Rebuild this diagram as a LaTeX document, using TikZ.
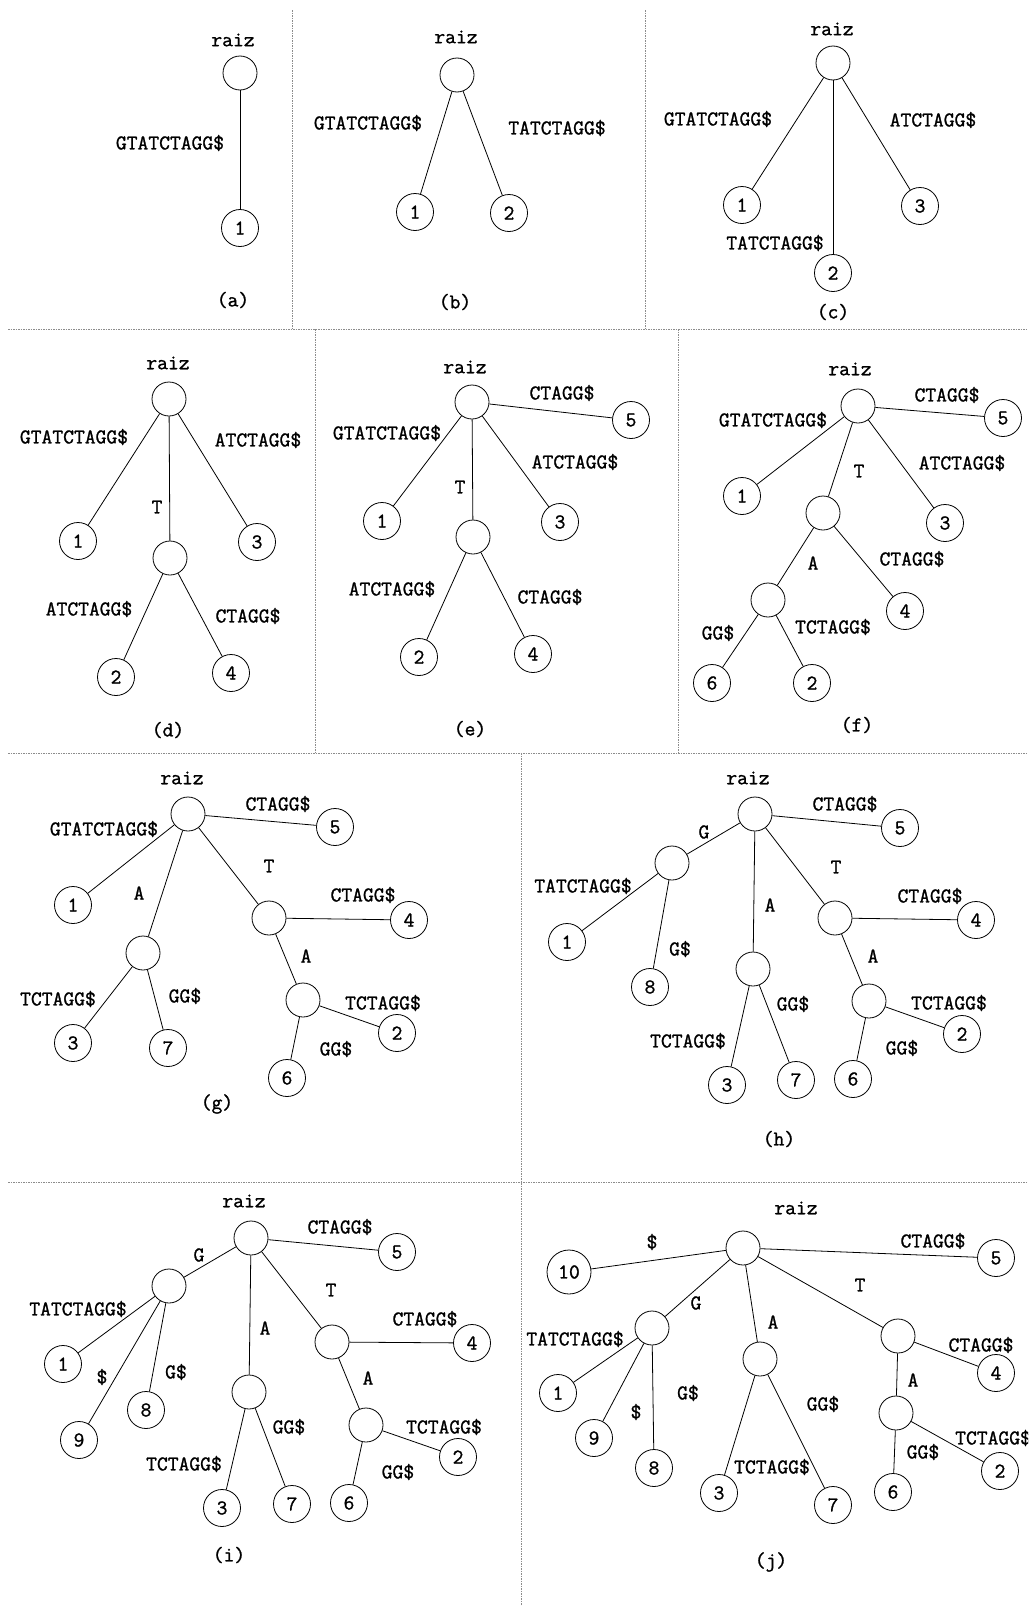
\documentclass[tikz,border=0pt]{standalone}
\usepackage{fontspec}
\newfontfamily\lbfam{Latin Modern Mono}[FakeBold=1.2]
\newcommand\lbf{\lbfam\fontsize{21}{23}\selectfont}
\begin{document}
\begin{tikzpicture}[x=1pt,y=-1pt,
  inn/.style={circle,draw,line width=0.8pt,minimum size=34pt,inner sep=0pt},
  lf/.style={circle,draw,line width=0.8pt,minimum size=37pt,inner sep=0pt,font=\lbf},
  lbl/.style={font=\lbf,inner sep=0pt},
  conn/.style={line width=0.8pt},
  sepline/.style={black!45,line width=0.8pt,dash pattern=on 1.5pt off 1pt}]
\clip (0,0) rectangle (1028,1606);
\fill[white] (0,0) rectangle (1028,1606);

% panel separators
\coordinate (s1a) at (292,10);   \coordinate (s1b) at (292,329);
\coordinate (s2a) at (645,10);   \coordinate (s2b) at (645,329);
\coordinate (h1a) at (8,329);    \coordinate (h1b) at (1028,329);
\coordinate (s3a) at (315,329);  \coordinate (s3b) at (315,753);
\coordinate (s4a) at (678,329);  \coordinate (s4b) at (678,753);
\coordinate (h2a) at (8,753);    \coordinate (h2b) at (1028,753);
\coordinate (s5a) at (521,753);  \coordinate (s5b) at (521,1606);
\coordinate (h3a) at (8,1182);   \coordinate (h3b) at (1028,1182);
\draw[sepline] (s1a) -- (s1b);
\draw[sepline] (s2a) -- (s2b);
\draw[sepline] (h1a) -- (h1b);
\draw[sepline] (s3a) -- (s3b);
\draw[sepline] (s4a) -- (s4b);
\draw[sepline] (h2a) -- (h2b);
\draw[sepline] (s5a) -- (s5b);
\draw[sepline] (h3a) -- (h3b);

% (a)
\node[lbl] (aRl) at (233,40) {raiz};
\node[inn] (aR) at (240,73) {};
\node[lf] (a1) at (240,228) {1};
\node[lbl] (aL1) at (170,143) {GTATCTAGG\$};
\node[lbl] (aCap) at (233,300) {(a)};
\draw[conn] (aR) -- (a1);

% (b)
\node[lbl] (bRl) at (456,37) {raiz};
\node[inn] (bR) at (457,75) {};
\node[lf] (b1) at (415,212) {1};
\node[lf] (b2) at (509,213) {2};
\node[lbl] (bL1) at (368,123) {GTATCTAGG\$};
\node[lbl] (bL2) at (557,128) {TATCTAGG\$};
\node[lbl] (bCap) at (455,302) {(b)};
\draw[conn] (bR) -- (b1);
\draw[conn] (bR) -- (b2);

% (c)
\node[lbl] (cRl) at (832,29) {raiz};
\node[inn] (cR) at (833,63) {};
\node[lf] (c1) at (742,205) {1};
\node[lf] (c3) at (920,206) {3};
\node[lf] (c2) at (833,273) {2};
\node[lbl] (cL1) at (718,119) {GTATCTAGG\$};
\node[lbl] (cL3) at (933,120) {ATCTAGG\$};
\node[lbl] (cL2) at (775,243) {TATCTAGG\$};
\node[lbl] (cCap) at (833,312) {(c)};
\draw[conn] (cR) -- (c1);
\draw[conn] (cR) -- (c2);
\draw[conn] (cR) -- (c3);

% (d)
\node[lbl] (dRl) at (168,363) {raiz};
\node[inn] (dR) at (169,399) {};
\node[lf] (d1) at (78,541) {1};
\node[lf] (d3) at (257,542) {3};
\node[inn] (dT) at (170,558) {};
\node[lf] (d2) at (116,677) {2};
\node[lf] (d4) at (231,673) {4};
\node[lbl] (dL1) at (74,437) {GTATCTAGG\$};
\node[lbl] (dL3) at (258,440) {ATCTAGG\$};
\node[lbl] (dLT) at (157,507) {T};
\node[lbl] (dL2) at (89,609) {ATCTAGG\$};
\node[lbl] (dL4) at (248,616) {CTAGG\$};
\node[lbl] (dCap) at (168,730) {(d)};
\draw[conn] (dR) -- (d1);
\draw[conn] (dR) -- (dT);
\draw[conn] (dR) -- (d3);
\draw[conn] (dT) -- (d2);
\draw[conn] (dT) -- (d4);

% (e)
\node[lbl] (eRl) at (465,367) {raiz};
\node[inn] (eR) at (472,402) {};
\node[lf] (e1) at (382,521) {1};
\node[inn] (eT) at (473,537) {};
\node[lf] (e2) at (419,657) {2};
\node[lf] (e5) at (631,420) {5};
\node[lf] (e3) at (560,522) {3};
\node[lf] (e4) at (533,654) {4};
\node[lbl] (eL1) at (387,433) {GTATCTAGG\$};
\node[lbl] (eLT) at (460,487) {T};
\node[lbl] (eL2) at (392,589) {ATCTAGG\$};
\node[lbl] (eL5) at (562,393) {CTAGG\$};
\node[lbl] (eL3) at (575,462) {ATCTAGG\$};
\node[lbl] (eL4) at (550,597) {CTAGG\$};
\node[lbl] (eCap) at (470,729) {(e)};
\draw[conn] (eR) -- (e1);
\draw[conn] (eR) -- (eT);
\draw[conn] (eR) -- (e3);
\draw[conn] (eR) -- (e5);
\draw[conn] (eT) -- (e2);
\draw[conn] (eT) -- (e4);

% (f)
\node[lbl] (fRl) at (850,369) {raiz};
\node[inn] (fR) at (858,406) {};
\node[lf] (f5) at (1003,418) {5};
\node[lf] (f1) at (742,496) {1};
\node[inn] (fT) at (823,513) {};
\node[lf] (f3) at (945,523) {3};
\node[inn] (fA) at (768,600) {};
\node[lf] (f4) at (905,611) {4};
\node[lf] (f6) at (712,683) {6};
\node[lf] (f2) at (812,683) {2};
\node[lbl] (fL5) at (947,395) {CTAGG\$};
\node[lbl] (fL1) at (773,420) {GTATCTAGG\$};
\node[lbl] (fLT) at (859,471) {T};
\node[lbl] (fL3) at (962,463) {ATCTAGG\$};
\node[lbl] (fLA) at (813,563) {A};
\node[lbl] (fL4) at (912,559) {CTAGG\$};
\node[lbl] (fL6) at (718,633) {GG\$};
\node[lbl] (fL2) at (833,627) {TCTAGG\$};
\node[lbl] (fCap) at (857,725) {(f)};
\draw[conn] (fR) -- (f1);
\draw[conn] (fR) -- (fT);
\draw[conn] (fR) -- (f3);
\draw[conn] (fR) -- (f5);
\draw[conn] (fT) -- (fA);
\draw[conn] (fT) -- (f4);
\draw[conn] (fA) -- (f6);
\draw[conn] (fA) -- (f2);

% (g)
\node[lbl] (gRl) at (182,778) {raiz};
\node[inn] (gR) at (188,814) {};
\node[lf] (g5) at (335,827) {5};
\node[lf] (g1) at (73,905) {1};
\node[inn] (gT) at (269,918) {};
\node[lf] (g4) at (409,920) {4};
\node[inn] (gA) at (143,953) {};
\node[inn] (gTA) at (303,1000) {};
\node[lf] (g2) at (397,1033) {2};
\node[lf] (g3) at (73,1043) {3};
\node[lf] (g7) at (168,1048) {7};
\node[lf] (g6) at (287,1078) {6};
\node[lbl] (gL5) at (278,804) {CTAGG\$};
\node[lbl] (gL1) at (104,829) {GTATCTAGG\$};
\node[lbl] (gLA) at (139,893) {A};
\node[lbl] (gLT) at (269,866) {T};
\node[lbl] (gL4) at (363,895) {CTAGG\$};
\node[lbl] (gLTA) at (306,956) {A};
\node[lbl] (gL3) at (58,999) {TCTAGG\$};
\node[lbl] (gL7) at (185,996) {GG\$};
\node[lbl] (gL2) at (383,1003) {TCTAGG\$};
\node[lbl] (gL6) at (336,1049) {GG\$};
\node[lbl] (gCap) at (217,1104) {(g)};
\draw[conn] (gR) -- (g1);
\draw[conn] (gR) -- (gA);
\draw[conn] (gR) -- (gT);
\draw[conn] (gR) -- (g5);
\draw[conn] (gA) -- (g3);
\draw[conn] (gA) -- (g7);
\draw[conn] (gT) -- (g4);
\draw[conn] (gT) -- (gTA);
\draw[conn] (gTA) -- (g6);
\draw[conn] (gTA) -- (g2);

% (h)
\node[lbl] (hRl) at (748,778) {raiz};
\node[inn] (hR) at (755,814) {};
\node[lf] (h5) at (900,828) {5};
\node[inn] (hG) at (672,863) {};
\node[inn] (hT) at (835,918) {};
\node[lf] (h4) at (976,920) {4};
\node[lf] (h1) at (567,942) {1};
\node[inn] (hA) at (753,969) {};
\node[lf] (h8) at (650,987) {8};
\node[inn] (hTA) at (869,1001) {};
\node[lf] (h2) at (962,1034) {2};
\node[lf] (h3) at (727,1085) {3};
\node[lf] (h7) at (796,1080) {7};
\node[lf] (h6) at (853,1079) {6};
\node[lbl] (hL5) at (845,804) {CTAGG\$};
\node[lbl] (hLG) at (704,832) {G};
\node[lbl] (hL1) at (583,886) {TATCTAGG\$};
\node[lbl] (hLT) at (836,867) {T};
\node[lbl] (hLA) at (770,905) {A};
\node[lbl] (hL4) at (930,896) {CTAGG\$};
\node[lbl] (hL8) at (680,949) {G\$};
\node[lbl] (hLTA) at (873,956) {A};
\node[lbl] (hL7) at (793,1004) {GG\$};
\node[lbl] (hL2) at (949,1003) {TCTAGG\$};
\node[lbl] (hL3) at (688,1041) {TCTAGG\$};
\node[lbl] (hL6) at (902,1048) {GG\$};
\node[lbl] (hCap) at (779,1139) {(h)};
\draw[conn] (hR) -- (hG);
\draw[conn] (hR) -- (hA);
\draw[conn] (hR) -- (hT);
\draw[conn] (hR) -- (h5);
\draw[conn] (hG) -- (h1);
\draw[conn] (hG) -- (h8);
\draw[conn] (hA) -- (h3);
\draw[conn] (hA) -- (h7);
\draw[conn] (hT) -- (h4);
\draw[conn] (hT) -- (hTA);
\draw[conn] (hTA) -- (h6);
\draw[conn] (hTA) -- (h2);

% (i)
\node[lbl] (iRl) at (244,1201) {raiz};
\node[inn] (iR) at (251,1238) {};
\node[lf] (i5) at (397,1252) {5};
\node[inn] (iG) at (169,1286) {};
\node[inn] (iT) at (332,1342) {};
\node[lf] (i4) at (472,1343) {4};
\node[lf] (i1) at (63,1364) {1};
\node[inn] (iA) at (249,1392) {};
\node[lf] (i8) at (146,1410) {8};
\node[lf] (i9) at (79,1440) {9};
\node[inn] (iTA) at (366,1425) {};
\node[lf] (i2) at (458,1457) {2};
\node[lf] (i3) at (222,1508) {3};
\node[lf] (i7) at (292,1504) {7};
\node[lf] (i6) at (349,1503) {6};
\node[lbl] (iL5) at (340,1227) {CTAGG\$};
\node[lbl] (iLG) at (199,1255) {G};
\node[lbl] (iL1) at (78,1309) {TATCTAGG\$};
\node[lbl] (iLT) at (331,1290) {T};
\node[lbl] (iLA) at (265,1328) {A};
\node[lbl] (iL4) at (425,1319) {CTAGG\$};
\node[lbl] (iL9) at (102,1377) {\$};
\node[lbl] (iL8) at (176,1372) {G\$};
\node[lbl] (iLTA) at (368,1378) {A};
\node[lbl] (iL7) at (289,1427) {GG\$};
\node[lbl] (iL2) at (444,1427) {TCTAGG\$};
\node[lbl] (iL3) at (184,1464) {TCTAGG\$};
\node[lbl] (iL6) at (398,1472) {GG\$};
\node[lbl] (iCap) at (229,1555) {(i)};
\draw[conn] (iR) -- (iG);
\draw[conn] (iR) -- (iA);
\draw[conn] (iR) -- (iT);
\draw[conn] (iR) -- (i5);
\draw[conn] (iG) -- (i1);
\draw[conn] (iG) -- (i9);
\draw[conn] (iG) -- (i8);
\draw[conn] (iA) -- (i3);
\draw[conn] (iA) -- (i7);
\draw[conn] (iT) -- (i4);
\draw[conn] (iT) -- (iTA);
\draw[conn] (iTA) -- (i6);
\draw[conn] (iTA) -- (i2);

% (j)
\node[lbl] (jRl) at (796,1208) {raiz};
\node[inn] (jR) at (743,1248) {};
\node[lf,minimum size=44pt] (j10) at (569,1272) {10};
\node[lf] (j5) at (996,1258) {5};
\node[inn] (jG) at (652,1328) {};
\node[inn] (jT) at (898,1336) {};
\node[inn] (jA) at (760,1359) {};
\node[lf] (j4) at (996,1373) {4};
\node[lf] (j1) at (558,1393) {1};
\node[inn] (jTA) at (896,1413) {};
\node[lf] (j9) at (594,1438) {9};
\node[lf] (j8) at (654,1468) {8};
\node[lf] (j2) at (1000,1471) {2};
\node[lf] (j3) at (719,1493) {3};
\node[lf] (j6) at (893,1492) {6};
\node[lf] (j7) at (833,1505) {7};
\node[lbl] (jL10) at (652,1242) {\$};
\node[lbl] (jL5) at (933,1241) {CTAGG\$};
\node[lbl] (jLT) at (860,1285) {T};
\node[lbl] (jLG) at (696,1303) {G};
\node[lbl] (jLA) at (773,1322) {A};
\node[lbl] (jL1) at (575,1339) {TATCTAGG\$};
\node[lbl] (jL4) at (981,1345) {CTAGG\$};
\node[lbl] (jLTA) at (913,1380) {A};
\node[lbl] (jL8) at (688,1393) {G\$};
\node[lbl] (jL7) at (823,1404) {GG\$};
\node[lbl] (jL9) at (636,1412) {\$};
\node[lbl,anchor=west] (jL2) at (955,1438) {TCTAGG\$};
\node[lbl] (jL6) at (923,1452) {GG\$};
\node[lbl] (jL3) at (772,1467) {TCTAGG\$};
\node[lbl] (jCap) at (771,1562) {(j)};
\draw[conn] (jR) -- (j10);
\draw[conn] (jR) -- (jG);
\draw[conn] (jR) -- (jA);
\draw[conn] (jR) -- (jT);
\draw[conn] (jR) -- (j5);
\draw[conn] (jG) -- (j1);
\draw[conn] (jG) -- (j9);
\draw[conn] (jG) -- (j8);
\draw[conn] (jA) -- (j3);
\draw[conn] (jA) -- (j7);
\draw[conn] (jT) -- (j4);
\draw[conn] (jT) -- (jTA);
\draw[conn] (jTA) -- (j6);
\draw[conn] (jTA) -- (j2);
\end{tikzpicture}
\end{document}
